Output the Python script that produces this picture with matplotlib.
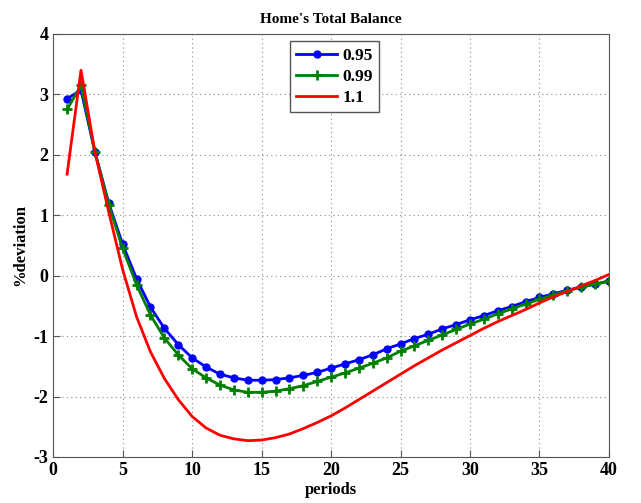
import numpy as np
import matplotlib
matplotlib.use("Agg")
import matplotlib.pyplot as plt

periods = np.arange(1, 41)

beta_095 = [2.93, 3.07, 2.05, 1.20, 0.52, -0.05, -0.52, -0.87, -1.14, -1.36,
            -1.51, -1.63, -1.69, -1.73, -1.73, -1.72, -1.69, -1.65, -1.60, -1.53,
            -1.46, -1.39, -1.31, -1.21, -1.13, -1.04, -0.97, -0.88, -0.81, -0.73,
            -0.66, -0.58, -0.51, -0.43, -0.36, -0.30, -0.24, -0.19, -0.14, -0.09]
beta_099 = [2.75, 3.15, 2.05, 1.17, 0.45, -0.15, -0.65, -1.03, -1.31, -1.54,
            -1.69, -1.81, -1.89, -1.93, -1.93, -1.91, -1.87, -1.82, -1.75, -1.68,
            -1.61, -1.53, -1.45, -1.36, -1.25, -1.16, -1.07, -0.98, -0.89, -0.80,
            -0.72, -0.63, -0.55, -0.47, -0.39, -0.32, -0.25, -0.19, -0.14, -0.09]
beta_110 = [1.68, 3.40, 2.05, 1.05, 0.10, -0.68, -1.26, -1.70, -2.05, -2.33,
            -2.52, -2.64, -2.70, -2.73, -2.72, -2.68, -2.62, -2.53, -2.43, -2.32,
            -2.19, -2.05, -1.91, -1.77, -1.63, -1.49, -1.36, -1.23, -1.11, -0.99,
            -0.87, -0.76, -0.66, -0.56, -0.45, -0.35, -0.26, -0.17, -0.08, 0.02]
labels = ["0.95", "0.99", "1.1"]

plt.rcParams["font.family"] = ["Liberation Serif", "DejaVu Serif"]
plt.rcParams["font.weight"] = "bold"
plt.rcParams["axes.unicode_minus"] = False

fig = plt.figure(figsize=(6.41, 5.03), dpi=100)
ax = fig.add_axes([0.083, 0.0915, 0.867, 0.841])

ax.plot(periods, beta_095, color="#0000ff", lw=2, marker="o", ms=5, label=labels[0])
ax.plot(periods, beta_099, color="#008000", lw=2, marker="+", ms=7, mew=2, label=labels[1])
ax.plot(periods, beta_110, color="#ff0000", lw=2, label=labels[2])

ax.set_xlim(0, 40)
ax.set_ylim(-3, 4)
ax.set_xticks(range(0, 41, 5))
ax.set_yticks(range(-3, 5))
ax.grid(True, linestyle=(0, (1, 3)), color="#888888", linewidth=0.8)
ax.tick_params(direction="in", labelsize=13, length=5, color="#555555")
for lab in ax.get_xticklabels() + ax.get_yticklabels():
    lab.set_fontweight("bold")
for s in ax.spines.values():
    s.set_color("#555555")

ax.set_title("Home's Total Balance", fontsize=11, fontweight="bold", pad=8)
ax.set_xlabel("periods", fontsize=12, fontweight="bold", labelpad=2)
ax.set_ylabel("%deviation", fontsize=12, fontweight="bold", labelpad=4)

leg = ax.legend(loc="upper left", bbox_to_anchor=(0.41, 1.003), fontsize=12.5,
                fancybox=False, framealpha=1, edgecolor="#555555",
                handlelength=2.4, borderpad=0.35, labelspacing=0.3, handletextpad=0.3)
leg.get_frame().set_linewidth(1)
for t in leg.get_texts():
    t.set_fontweight("bold")

fig.savefig("out.png", dpi=100)
